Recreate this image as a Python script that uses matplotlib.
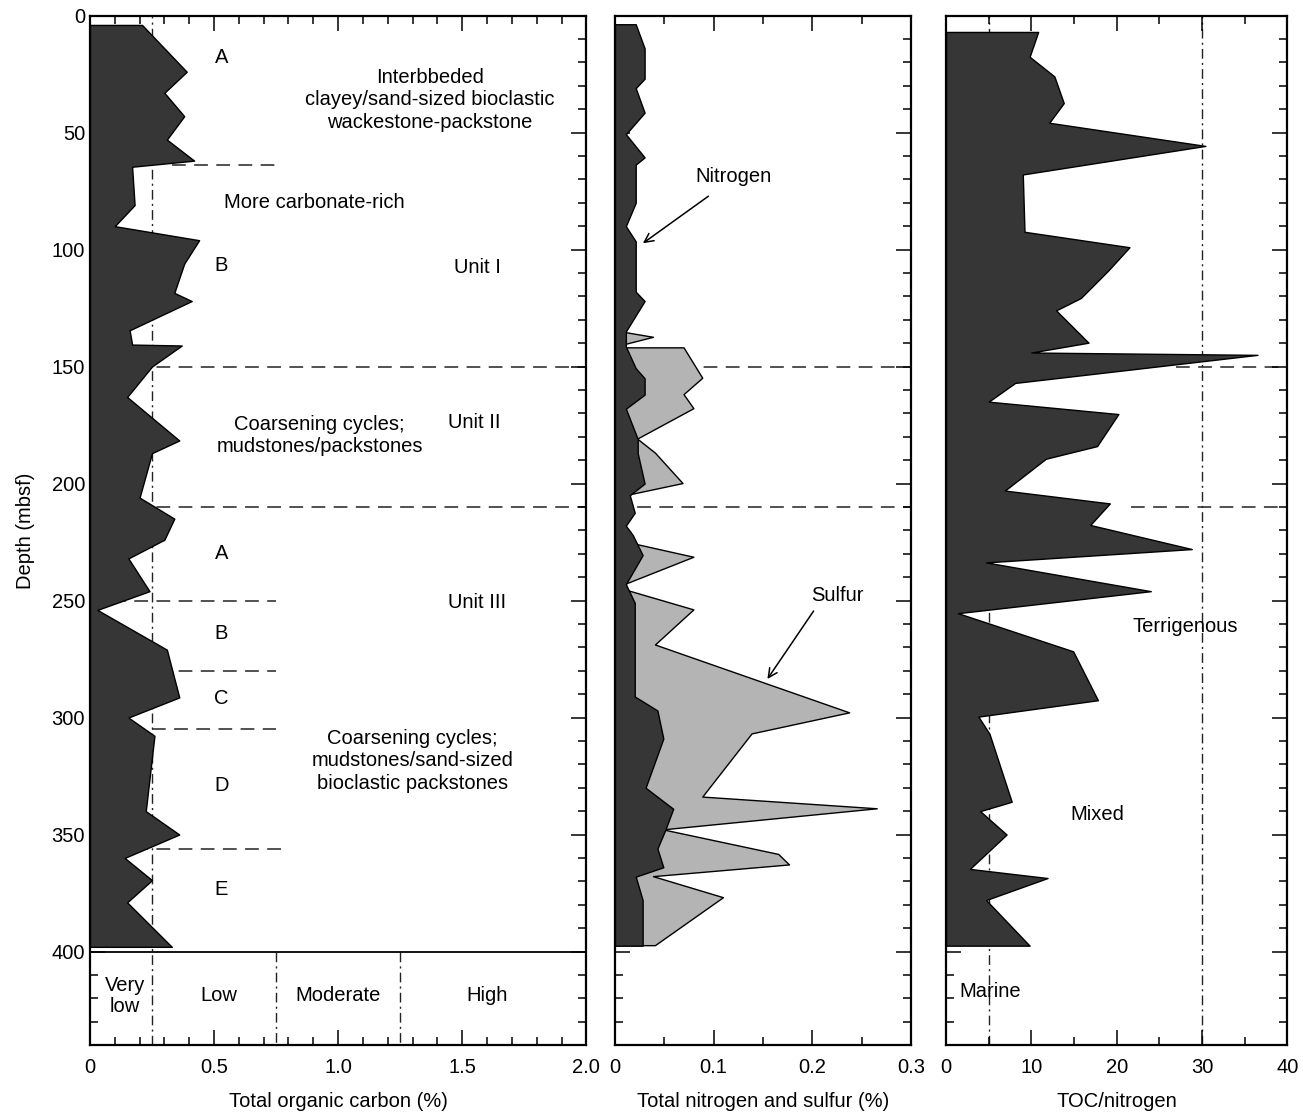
import matplotlib.pyplot as plt
import numpy as np

plt.rcParams['font.family'] = ['Liberation Sans', 'DejaVu Sans']

# ---- data (depth in mbsf) ----
toc_depth = [4, 24, 33, 43, 53, 62, 64.6, 81, 90, 96, 106, 118.5, 122, 134.5, 140.6, 141,
             150, 163, 181.6, 187, 206, 215, 224, 232, 246, 254, 271, 291.4, 300, 307.8,
             340, 350, 360, 369.5, 379, 398]
toc_pct = [0.21, 0.39, 0.30, 0.38, 0.31, 0.42, 0.17, 0.18, 0.10, 0.44, 0.38, 0.34, 0.41, 0.16, 0.17, 0.37,
           0.25, 0.15, 0.36, 0.25, 0.20, 0.34, 0.30, 0.155, 0.24, 0.03, 0.31, 0.36, 0.155, 0.26,
           0.225, 0.36, 0.14, 0.25, 0.15, 0.33]

n_depth = [3.7, 14, 27, 31, 41.5, 50.7, 60.6, 63.7, 80, 90, 96.5, 118, 122, 135, 141.5,
           150.7, 155, 162, 168, 181, 187, 200, 205, 212.5, 218, 222, 230.6, 243, 251, 291,
           297, 309, 330, 339, 348, 356, 364, 368, 378, 397.5]
n_pct = [0.021, 0.030, 0.030, 0.021, 0.030, 0.011, 0.030, 0.021, 0.021, 0.011, 0.021, 0.021, 0.030, 0.011, 0.011,
         0.021, 0.030, 0.030, 0.011, 0.023, 0.023, 0.030, 0.015, 0.020, 0.011, 0.018, 0.028, 0.011, 0.020, 0.020,
         0.043, 0.049, 0.031, 0.059, 0.051, 0.043, 0.049, 0.021, 0.028, 0.028]

# sulfur: NaN separates the measured intervals
s_depth = [135.5, 137.5, 140.5, np.nan,
           142, 155, 162, 168, 181, 187, 200, 205, np.nan,
           225, 231.5, 243, np.nan,
           245.5, 254, 269, 298, 307, 334, 339, 348, 358.5, 363, 368, 377, 397.5]
s_pct = [0.011, 0.039, 0.011, np.nan,
         0.070, 0.089, 0.070, 0.080, 0.023, 0.041, 0.069, 0.013, np.nan,
         0.011, 0.080, 0.011, np.nan,
         0.011, 0.080, 0.041, 0.238, 0.139, 0.089, 0.266, 0.049, 0.166, 0.177, 0.039, 0.110, 0.041]

cn_depth = [7, 17.6, 26, 37.4, 45.8, 55.7, 67.9, 92.4, 99, 109, 120.7, 126, 139.8, 144, 145,
            157, 165, 170.3, 184, 189.4, 203, 208.5, 217.7, 228, 233.7, 246, 255.4, 271.7,
            292.6, 299.6, 307, 336, 340, 350, 364.7, 368.6, 378, 397.5]
cn_ratio = [10.8, 9.8, 12.7, 13.8, 12.1, 30.4, 9.0, 9.2, 21.5, 19.0, 15.8, 12.9, 16.7, 10.0, 36.5,
            8.1, 5.0, 20.2, 17.7, 11.7, 6.9, 19.2, 16.9, 28.8, 4.7, 24.0, 1.4, 14.9,
            17.8, 3.8, 5.1, 7.7, 4.0, 7.1, 2.8, 11.9, 4.7, 9.8]

toc_classes = [0.25, 0.75, 1.25]
cn_classes = [5, 30]

break_depth = [64, 150, 210, 250, 280, 305, 356]
break_x0 = [0.33, 0, 0, 0, 0, 0.25, 0]
break_x1 = [0.75, 2.0, 2.0, 0.75, 0.75, 0.75, 0.77]
unit_depth = [150, 210]
cn_break_x0 = [27, 21.7]

DARK = '#363636'
LIGHT = '#b4b4b4'
DASH = (0, (9, 5.5))
DASHDOT = (0, (7, 3, 1.5, 3))


def style_axis(ax, xmax, xmajor, xminor, xlabels, xlabel, left_labels):
    ax.set_xlim(0, xmax)
    ax.set_ylim(440, 0)
    ax.set_xticks(np.arange(0, xmax + 1e-9, xmajor))
    ax.set_xticklabels(xlabels)
    ax.set_xticks(np.arange(0, xmax + 1e-9, xminor), minor=True)
    ax.set_yticks(np.arange(0, 401, 50))
    ax.set_yticks(np.arange(0, 441, 10), minor=True)
    ax.tick_params(which='both', direction='in', top=True, right=True, width=1.1, labelsize=14.5)
    ax.tick_params(which='major', length=11)
    ax.tick_params(which='minor', length=6)
    ax.tick_params(axis='x', pad=9)
    if not left_labels:
        ax.tick_params(axis='y', labelleft=False)
    for s in ax.spines.values():
        s.set_linewidth(1.6)
    ax.set_xlabel(xlabel, fontsize=14.5, labelpad=11)


fig = plt.figure(figsize=(13.03, 11.13), dpi=100)
ax1 = fig.add_axes([0.069, 0.061, 0.381, 0.925])
ax2 = fig.add_axes([0.472, 0.061, 0.227, 0.925])
ax3 = fig.add_axes([0.726, 0.061, 0.262, 0.925])

# ---- panel 1: TOC ----
ax1.axvline(toc_classes[0], color='#222222', lw=1, ls=DASHDOT, zorder=1)
for c in toc_classes[1:]:
    ax1.plot([c, c], [400, 440], color='#222222', lw=1, ls=DASHDOT, zorder=1)
for d, a, b in zip(break_depth, break_x0, break_x1):
    ax1.plot([a, b], [d, d], color='#222222', lw=1.1, ls=DASH, zorder=1)
ax1.fill_betweenx(toc_depth, 0, toc_pct, facecolor=DARK, edgecolor='black', lw=1, zorder=2)
ax1.axhline(400, color='black', lw=1.3, zorder=3)

txt = dict(fontsize=14.5, ha='center', va='center')
ax1.text(1.37, 36, 'Interbbeded\nclayey/sand-sized bioclastic\nwackestone-packstone', linespacing=1.25, **txt)
ax1.text(0.905, 80, 'More carbonate-rich', **txt)
ax1.text(1.56, 107.5, 'Unit I', **txt)
ax1.text(0.925, 179.5, 'Coarsening cycles;\nmudstones/packstones', linespacing=1.25, **txt)
ax1.text(1.55, 174, 'Unit II', **txt)
ax1.text(1.56, 250.7, 'Unit III', **txt)
ax1.text(1.30, 318.5, 'Coarsening cycles;\nmudstones/sand-sized\nbioclastic packstones', linespacing=1.25, **txt)
for lab, d in zip(['A', 'B', 'A', 'B', 'C', 'D', 'E'], [18, 106.6, 230, 264, 291.7, 329, 373.5]):
    ax1.text(0.53, d, lab, **txt)
ax1.text(0.14, 419, 'Very\nlow', linespacing=1.15, **txt)
ax1.text(0.52, 419, 'Low', **txt)
ax1.text(1.0, 419, 'Moderate', **txt)
ax1.text(1.6, 419, 'High', **txt)

style_axis(ax1, 2.0, 0.5, 0.1, ['0', '0.5', '1.0', '1.5', '2.0'], 'Total organic carbon (%)', True)
ax1.set_ylabel('Depth (mbsf)', fontsize=14.5, labelpad=12)

# ---- panel 2: nitrogen and sulfur ----
for d in unit_depth:
    ax2.plot([0, 0.3], [d, d], color='#222222', lw=1.1, ls=DASH, zorder=1)
ax2.fill_betweenx(s_depth, 0, s_pct, facecolor=LIGHT, edgecolor='black', lw=1, zorder=2)
ax2.fill_betweenx(n_depth, 0, n_pct, facecolor=DARK, edgecolor='black', lw=1, zorder=3)
ax2.text(0.12, 68.7, 'Nitrogen', **txt)
ax2.annotate('', xy=(0.026, 98), xytext=(0.097, 76.5),
             arrowprops=dict(arrowstyle='->', lw=1.1, color='black', mutation_scale=16), zorder=4)
ax2.text(0.226, 248, 'Sulfur', **txt)
ax2.annotate('', xy=(0.153, 284.5), xytext=(0.203, 253.5),
             arrowprops=dict(arrowstyle='->', lw=1.1, color='black', mutation_scale=16), zorder=4)
style_axis(ax2, 0.3, 0.1, 0.05, ['0', '0.1', '0.2', '0.3'], 'Total nitrogen and sulfur (%)', False)

# ---- panel 3: TOC/N ----
for c in cn_classes:
    ax3.axvline(c, color='#222222', lw=1, ls=DASHDOT, zorder=1)
for d, a in zip(unit_depth, cn_break_x0):
    ax3.plot([a, 40], [d, d], color='#222222', lw=1.1, ls=DASH, zorder=1)
ax3.fill_betweenx(cn_depth, 0, cn_ratio, facecolor=DARK, edgecolor='black', lw=1, zorder=2)
ax3.text(28, 261, 'Terrigenous', **txt)
ax3.text(17.7, 341.5, 'Mixed', **txt)
ax3.text(5.2, 417, 'Marine', **txt)
style_axis(ax3, 40, 10, 5, ['0', '10', '20', '30', '40'], 'TOC/nitrogen', False)

fig.savefig('out.png', dpi=100)
